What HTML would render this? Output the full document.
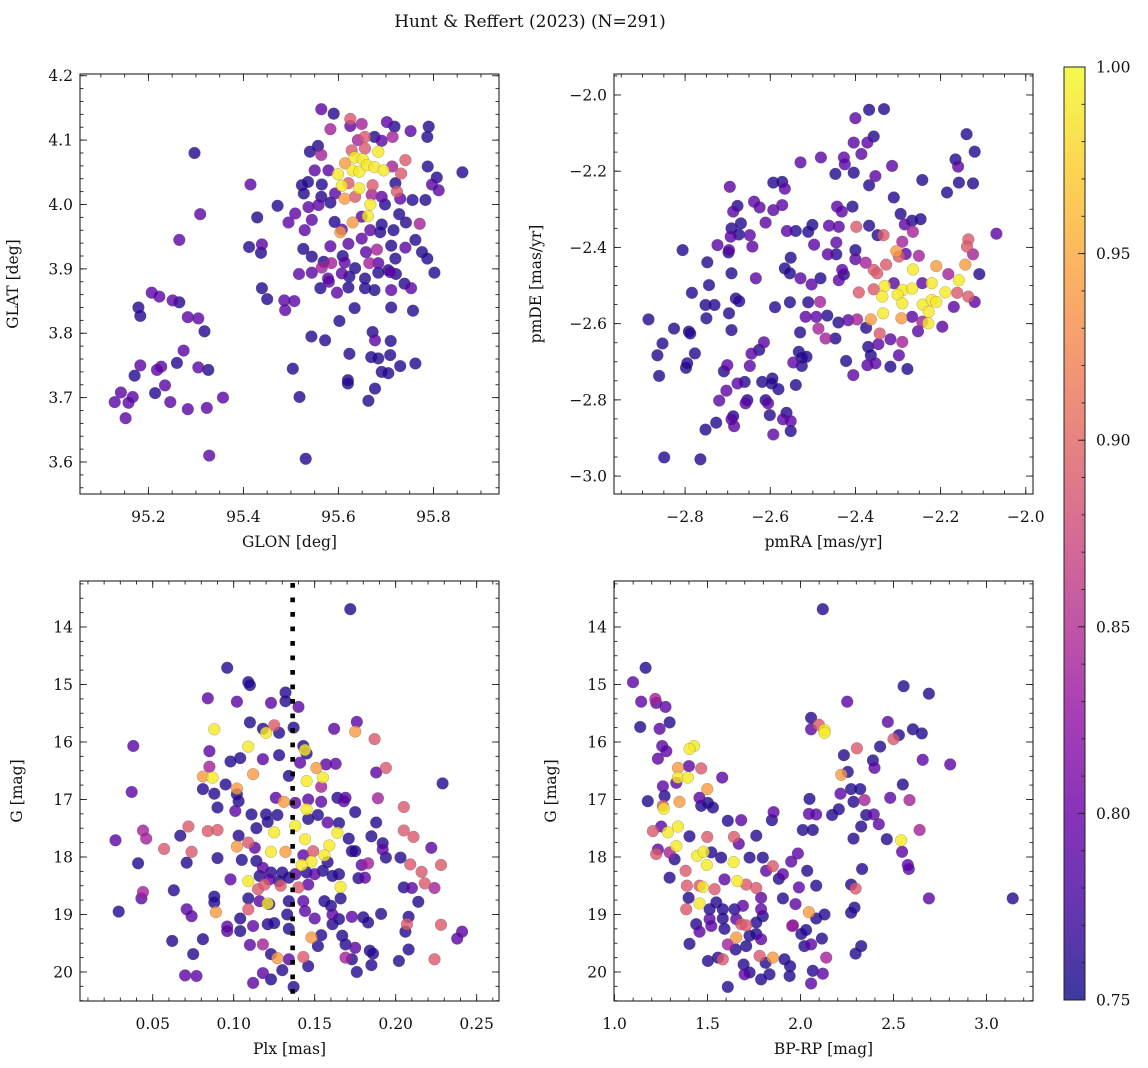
<!DOCTYPE html>
<html><head><meta charset="utf-8"><style>
html,body{margin:0;padding:0;background:#fff;}
svg{display:block;font-family:"DejaVu Serif","Liberation Serif",serif;}
</style></head><body>
<svg id="chart" width="1148" height="1068" viewBox="0 0 1148 1068" xmlns="http://www.w3.org/2000/svg">
<rect width="1148" height="1068" fill="#fff"/>
<text x="530" y="27" font-size="17" text-anchor="middle" fill="#111">Hunt &amp; Reffert (2023) (N=291)</text>
<g id="layer"></g>
</svg>
<script>
// ---- Panel 1: GLON / GLAT ----
const p1Glon=[95.297,95.309,95.265,95.207,95.223,95.251,95.265,95.179,95.183,95.283,95.305,95.318,95.274,95.260,95.183,95.227,95.218,95.305,95.326,95.171,95.142,95.167,95.214,95.235,95.129,95.158,95.246,95.283,95.323,95.357,95.152,95.328,
95.415,95.429,95.472,95.412,95.439,95.437,95.439,95.450,95.486,95.507,95.488,95.543,95.572,95.504,95.518,95.531,95.602,95.634,95.623,95.620,95.620,95.663,95.677,95.672,95.677,95.710,95.669,95.684,95.709,95.730,95.691,95.705,95.762,95.711,95.757,
95.564,95.590,95.625,95.649,95.583,95.625,95.702,95.718,95.752,95.790,95.787,95.714,95.691,95.676,95.656,95.641,95.557,95.540,95.564,95.628,95.656,95.684,95.634,95.651,95.614,95.630,95.644,95.660,95.676,95.695,95.599,95.713,95.732,95.741,95.788,95.861,95.807,95.797,95.811,95.550,
95.523,95.536,95.565,95.579,95.607,95.644,95.621,95.672,95.720,95.723,95.593,95.613,95.635,95.670,95.691,95.527,95.564,95.583,95.558,95.537,95.509,95.667,95.662,95.698,95.730,95.756,95.783,95.728,95.742,95.771,95.592,95.630,95.649,95.607,95.604,95.495,95.529,95.544,95.667,95.691,
95.688,95.716,95.649,95.621,95.583,95.526,95.544,95.609,95.658,95.681,95.711,95.741,95.762,95.776,95.720,95.787,95.802,95.569,95.585,95.613,95.635,95.665,95.684,95.705,95.721,95.517,95.544,95.565,95.578,95.607,95.623,95.656,95.684,95.709,95.739,95.562,95.580,95.597,95.621,95.656,95.676,95.711,95.753];
const p1Glat=[4.080,3.985,3.945,3.863,3.857,3.851,3.848,3.840,3.827,3.825,3.823,3.803,3.773,3.754,3.750,3.748,3.743,3.747,3.743,3.734,3.708,3.701,3.707,3.719,3.693,3.692,3.693,3.682,3.684,3.700,3.668,3.610,
4.031,3.980,3.998,3.934,3.938,3.925,3.870,3.853,3.851,3.850,3.836,3.795,3.789,3.745,3.701,3.605,3.819,3.839,3.768,3.727,3.722,3.695,3.714,3.802,3.789,3.788,3.763,3.761,3.766,3.749,3.740,3.738,3.753,3.840,3.835,
4.148,4.141,4.133,4.125,4.117,4.122,4.128,4.121,4.114,4.121,4.105,4.105,4.099,4.105,4.105,4.100,4.091,4.082,4.077,4.084,4.087,4.082,4.073,4.070,4.064,4.053,4.051,4.061,4.058,4.053,4.047,4.059,4.048,4.069,4.059,4.050,4.042,4.031,4.022,4.053,
4.030,4.035,4.031,4.053,4.029,4.025,4.033,4.030,4.033,4.020,4.017,4.009,4.012,4.015,4.012,4.017,4.012,4.003,3.999,3.996,3.986,4.000,3.982,4.000,4.009,4.007,4.007,3.985,3.972,3.970,3.973,3.972,3.981,3.961,3.957,3.972,3.960,3.976,3.960,3.969,
3.957,3.960,3.947,3.939,3.935,3.931,3.919,3.920,3.926,3.930,3.936,3.933,3.945,3.926,3.916,3.916,3.894,3.911,3.909,3.910,3.901,3.909,3.909,3.898,3.892,3.892,3.894,3.902,3.885,3.893,3.888,3.885,3.894,3.895,3.877,3.870,3.880,3.863,3.871,3.870,3.867,3.867,3.870];
const p1Prob=[0.76,0.79,0.79,0.79,0.79,0.79,0.76,0.76,0.76,0.79,0.79,0.76,0.79,0.76,0.79,0.79,0.79,0.79,0.76,0.76,0.79,0.79,0.76,0.79,0.79,0.79,0.79,0.79,0.79,0.79,0.79,0.79,
0.79,0.76,0.76,0.76,0.79,0.76,0.76,0.76,0.79,0.79,0.79,0.76,0.76,0.76,0.76,0.76,0.76,0.76,0.76,0.76,0.76,0.76,0.76,0.76,0.79,0.76,0.76,0.76,0.76,0.76,0.76,0.76,0.76,0.76,0.76,
0.79,0.76,0.89,0.84,0.84,0.79,0.79,0.76,0.79,0.76,0.76,0.84,0.79,0.76,0.89,0.84,0.76,0.76,0.84,0.89,0.89,0.99,0.99,0.99,0.94,0.99,0.99,0.99,0.99,0.99,0.99,0.84,0.89,0.89,0.76,0.76,0.76,0.79,0.79,0.79,
0.76,0.76,0.76,0.79,0.99,0.99,0.89,0.89,0.76,0.89,0.79,0.94,0.89,0.84,0.79,0.76,0.76,0.76,0.79,0.79,0.79,0.99,0.99,0.76,0.79,0.76,0.76,0.76,0.76,0.84,0.76,0.94,0.79,0.79,0.94,0.79,0.79,0.79,0.79,0.76,
0.76,0.76,0.79,0.79,0.79,0.76,0.76,0.76,0.79,0.84,0.76,0.79,0.76,0.76,0.76,0.76,0.76,0.76,0.84,0.79,0.76,0.84,0.79,0.76,0.76,0.79,0.79,0.84,0.79,0.79,0.76,0.76,0.76,0.79,0.76,0.76,0.79,0.79,0.76,0.76,0.76,0.79,0.79];

// ---- Panel 2: pmRA / pmDE ----
const p2PmRA=[-2.368,-2.333,-2.400,-2.357,-2.372,-2.404,-2.386,-2.139,-2.120,-2.165,-2.159,-2.529,-2.481,-2.427,-2.425,-2.447,-2.404,-2.314,-2.353,-2.368,-2.243,-2.157,-2.124,-2.185,-2.310,-2.695,-2.593,-2.572,-2.566,-2.677,
-2.687,-2.638,-2.625,-2.593,-2.572,-2.443,-2.407,-2.432,-2.294,-2.267,-2.247,-2.284,-2.265,-2.691,-2.669,-2.611,-2.561,-2.540,-2.501,-2.511,-2.462,-2.439,-2.398,-2.368,-2.348,-2.334,-2.693,-2.674,-2.648,-2.642,
-2.724,-2.697,-2.698,-2.806,-2.497,-2.445,-2.400,-2.290,-2.135,-2.069,-2.552,-2.465,-2.445,-2.400,-2.376,-2.357,-2.304,-2.298,-2.282,-2.251,-2.138,-2.124,-2.748,-2.691,-2.634,-2.566,-2.554,-2.529,-2.503,-2.482,
-2.431,-2.427,-2.439,-2.349,-2.328,-2.265,-2.210,-2.142,-2.182,-2.109,-2.157,-2.744,-2.784,-2.752,-2.731,-2.681,-2.673,-2.697,-2.589,-2.554,-2.511,-2.483,-2.392,-2.357,-2.331,-2.310,-2.289,-2.267,-2.243,-2.221,
-2.189,-2.161,-2.135,-2.120,-2.337,-2.301,-2.290,-2.242,-2.221,-2.210,-2.169,-2.750,-2.886,-2.826,-2.791,-2.788,-2.691,-2.517,-2.492,-2.466,-2.440,-2.417,-2.396,-2.375,-2.364,-2.335,-2.292,-2.267,-2.228,-2.243,
-2.229,-2.196,-2.253,-2.487,-2.530,-2.470,-2.447,-2.343,-2.853,-2.865,-2.777,-2.798,-2.795,-2.861,-2.701,-2.709,-2.615,-2.626,-2.644,-2.648,-2.533,-2.526,-2.515,-2.546,-2.526,-2.422,-2.318,-2.346,-2.290,-2.370,
-2.364,-2.298,-2.372,-2.353,-2.318,-2.278,-2.405,-2.677,-2.660,-2.703,-2.720,-2.654,-2.658,-2.619,-2.595,-2.597,-2.581,-2.540,-2.611,-2.605,-2.601,-2.562,-2.570,-2.552,-2.687,-2.691,-2.685,-2.727,-2.752,-2.552,
-2.593,-2.849,-2.764];
const p2PmDE=[-2.039,-2.037,-2.061,-2.109,-2.125,-2.125,-2.155,-2.103,-2.149,-2.169,-2.188,-2.177,-2.164,-2.164,-2.182,-2.207,-2.204,-2.186,-2.213,-2.237,-2.223,-2.230,-2.232,-2.256,-2.269,-2.241,-2.230,-2.228,-2.246,-2.291,
-2.306,-2.280,-2.295,-2.302,-2.289,-2.293,-2.293,-2.306,-2.312,-2.330,-2.326,-2.340,-2.359,-2.350,-2.337,-2.335,-2.357,-2.357,-2.341,-2.359,-2.343,-2.346,-2.346,-2.343,-2.368,-2.368,-2.372,-2.366,-2.368,-2.398,
-2.394,-2.407,-2.413,-2.407,-2.393,-2.387,-2.407,-2.385,-2.379,-2.364,-2.427,-2.418,-2.418,-2.431,-2.440,-2.459,-2.410,-2.424,-2.417,-2.422,-2.398,-2.418,-2.439,-2.468,-2.481,-2.455,-2.468,-2.481,-2.497,-2.481,
-2.459,-2.471,-2.486,-2.468,-2.445,-2.458,-2.449,-2.445,-2.470,-2.470,-2.486,-2.499,-2.519,-2.551,-2.551,-2.534,-2.541,-2.573,-2.557,-2.544,-2.544,-2.543,-2.518,-2.510,-2.501,-2.494,-2.512,-2.508,-2.494,-2.494,
-2.518,-2.519,-2.529,-2.543,-2.529,-2.524,-2.547,-2.550,-2.538,-2.543,-2.556,-2.586,-2.589,-2.613,-2.621,-2.626,-2.617,-2.582,-2.582,-2.579,-2.597,-2.591,-2.589,-2.611,-2.589,-2.573,-2.586,-2.582,-2.569,-2.595,
-2.599,-2.608,-2.620,-2.613,-2.623,-2.639,-2.639,-2.626,-2.652,-2.683,-2.678,-2.716,-2.704,-2.737,-2.709,-2.725,-2.649,-2.669,-2.679,-2.711,-2.674,-2.689,-2.687,-2.702,-2.711,-2.698,-2.641,-2.654,-2.648,-2.661,
-2.683,-2.683,-2.709,-2.704,-2.713,-2.719,-2.735,-2.757,-2.753,-2.776,-2.802,-2.801,-2.809,-2.753,-2.744,-2.757,-2.772,-2.761,-2.801,-2.809,-2.840,-2.834,-2.851,-2.856,-2.843,-2.851,-2.869,-2.860,-2.878,-2.882,
-2.891,-2.951,-2.956];
const p2Prob=[0.76,0.76,0.79,0.76,0.79,0.79,0.79,0.76,0.76,0.76,0.79,0.79,0.79,0.79,0.79,0.76,0.76,0.79,0.79,0.76,0.76,0.76,0.76,0.76,0.76,0.79,0.76,0.76,0.79,0.76,
0.79,0.79,0.79,0.79,0.79,0.79,0.76,0.79,0.76,0.76,0.76,0.79,0.84,0.76,0.76,0.79,0.79,0.76,0.76,0.76,0.79,0.79,0.89,0.76,0.76,0.89,0.79,0.76,0.79,0.79,
0.79,0.79,0.76,0.76,0.79,0.79,0.76,0.84,0.89,0.79,0.76,0.79,0.76,0.79,0.84,0.89,0.94,0.89,0.79,0.84,0.89,0.84,0.76,0.76,0.79,0.76,0.76,0.79,0.79,0.76,
0.79,0.76,0.79,0.89,0.89,0.99,0.94,0.94,0.84,0.76,0.99,0.76,0.76,0.76,0.76,0.76,0.76,0.76,0.76,0.76,0.76,0.84,0.89,0.89,0.99,0.79,0.99,0.99,0.79,0.99,
0.99,0.89,0.89,0.79,0.99,0.99,0.99,0.99,0.99,0.99,0.79,0.76,0.76,0.76,0.76,0.76,0.76,0.79,0.79,0.76,0.76,0.79,0.84,0.76,0.94,0.99,0.94,0.79,0.99,0.84,
0.99,0.79,0.79,0.84,0.76,0.84,0.76,0.89,0.76,0.76,0.76,0.76,0.76,0.76,0.79,0.76,0.79,0.76,0.79,0.79,0.76,0.76,0.76,0.79,0.76,0.76,0.79,0.79,0.84,0.76,
0.76,0.79,0.79,0.79,0.76,0.76,0.79,0.79,0.76,0.79,0.79,0.76,0.79,0.76,0.76,0.76,0.76,0.76,0.76,0.79,0.76,0.76,0.79,0.79,0.76,0.79,0.79,0.76,0.76,0.76,
0.79,0.76,0.76];

// ---- Panel 3: Plx / G ----
const p3Plx=[0.172,0.096,0.109,0.110,0.084,0.102,0.123,0.132,0.132,0.140,0.110,0.118,0.125,0.120,0.128,0.137,0.088,0.162,0.176,0.175,0.187,0.038,0.085,0.109,0.143,0.144,0.145,0.128,0.118,0.104,
0.098,0.085,0.081,0.087,0.095,0.102,0.112,0.134,0.141,0.151,0.157,0.163,0.155,0.145,0.154,0.188,0.194,0.229,0.037,0.081,0.088,0.090,0.102,0.103,0.101,0.111,0.120,0.127,0.126,0.131,
0.138,0.146,0.145,0.154,0.164,0.168,0.169,0.175,0.189,0.205,0.152,0.146,0.158,0.165,0.188,0.114,0.121,0.138,0.125,0.144,0.164,0.171,0.185,0.192,0.192,0.205,0.211,0.222,0.044,0.046,
0.027,0.057,0.067,0.072,0.074,0.084,0.090,0.103,0.102,0.109,0.113,0.123,0.132,0.143,0.149,0.159,0.156,0.148,0.142,0.158,0.165,0.173,0.175,0.183,0.179,0.177,0.181,0.194,0.203,0.209,
0.216,0.228,0.218,0.224,0.205,0.210,0.214,0.041,0.071,0.090,0.105,0.114,0.118,0.123,0.130,0.116,0.122,0.128,0.134,0.138,0.145,0.150,0.155,0.161,0.109,0.098,0.115,0.119,0.129,0.140,
0.146,0.166,0.063,0.044,0.043,0.088,0.088,0.109,0.116,0.121,0.122,0.134,0.143,0.156,0.160,0.166,0.029,0.071,0.074,0.089,0.109,0.104,0.104,0.096,0.096,0.112,0.121,0.125,0.133,0.134,
0.144,0.150,0.154,0.161,0.161,0.165,0.173,0.180,0.183,0.191,0.208,0.207,0.228,0.206,0.241,0.238,0.062,0.081,0.075,0.070,0.077,0.110,0.118,0.123,0.127,0.134,0.143,0.146,0.148,0.152,
0.167,0.169,0.175,0.184,0.186,0.169,0.173,0.185,0.176,0.202,0.208,0.224,0.118,0.123,0.130,0.112,0.137];
const p3G=[13.69,14.71,14.96,15.01,15.24,15.30,15.32,15.14,15.29,15.39,15.66,15.77,15.71,15.84,15.84,15.75,15.78,15.77,15.65,15.82,15.95,16.07,16.16,16.08,16.07,16.14,16.20,16.23,16.30,16.28,
16.34,16.43,16.60,16.62,16.74,16.81,16.56,16.59,16.36,16.45,16.39,16.38,16.62,16.68,16.78,16.53,16.45,16.72,16.87,16.82,16.90,17.14,16.91,17.03,17.20,17.26,17.26,17.27,16.97,17.04,
17.06,17.00,17.17,17.04,16.97,17.03,16.97,17.22,16.98,17.13,17.27,17.34,17.40,17.41,17.40,17.50,17.39,17.46,17.57,17.69,17.58,17.68,17.64,17.76,17.87,17.54,17.65,17.84,17.54,17.68,
17.71,17.86,17.63,17.47,17.91,17.55,17.53,17.63,17.82,17.75,17.84,17.91,17.91,17.97,17.90,17.80,17.97,18.08,18.14,18.09,18.30,17.90,17.90,18.11,18.14,18.37,18.36,18.01,18.01,18.13,
18.26,18.14,18.46,18.54,18.53,18.54,18.78,18.11,18.10,18.02,18.05,18.07,18.19,18.27,18.27,18.33,18.39,18.42,18.36,18.30,18.27,18.30,18.24,18.33,18.42,18.39,18.56,18.48,18.50,18.53,
18.48,18.52,18.58,18.61,18.72,18.69,18.79,18.72,18.77,18.81,18.82,18.77,18.77,18.77,18.85,18.72,18.95,18.91,19.03,18.96,18.91,19.07,19.29,19.21,19.29,19.20,19.17,19.15,19.00,19.25,
18.94,19.07,19.36,19.00,19.17,19.08,19.04,19.05,19.14,18.99,19.04,19.17,19.18,19.30,19.30,19.42,19.46,19.43,19.69,20.06,20.07,19.53,19.52,19.69,19.76,19.78,19.74,19.90,19.40,19.55,
19.37,19.52,19.58,19.63,19.68,19.75,19.78,19.88,20.00,19.81,19.61,19.78,20.02,20.13,19.97,20.19,20.26];
const p3Prob=[0.76,0.76,0.76,0.76,0.79,0.79,0.79,0.76,0.76,0.79,0.76,0.76,0.89,0.99,0.76,0.76,0.99,0.79,0.79,0.94,0.89,0.79,0.79,0.99,0.76,0.99,0.76,0.76,0.79,0.76,
0.76,0.84,0.94,0.99,0.76,0.94,0.94,0.76,0.79,0.94,0.79,0.79,0.99,0.99,0.84,0.79,0.89,0.76,0.79,0.76,0.76,0.76,0.76,0.76,0.79,0.76,0.76,0.76,0.79,0.94,
0.79,0.79,0.99,0.79,0.76,0.79,0.79,0.76,0.84,0.89,0.76,0.76,0.79,0.76,0.76,0.76,0.76,0.99,0.99,0.99,0.99,0.76,0.76,0.76,0.79,0.89,0.89,0.79,0.84,0.84,
0.79,0.89,0.76,0.89,0.89,0.89,0.89,0.76,0.94,0.89,0.79,0.99,0.94,0.79,0.89,0.99,0.99,0.99,0.99,0.76,0.76,0.76,0.76,0.84,0.79,0.76,0.79,0.76,0.76,0.89,
0.89,0.89,0.89,0.84,0.76,0.79,0.76,0.76,0.76,0.76,0.76,0.76,0.79,0.76,0.76,0.76,0.79,0.76,0.76,0.79,0.76,0.79,0.76,0.76,0.99,0.79,0.89,0.89,0.89,0.89,
0.79,0.99,0.76,0.84,0.79,0.76,0.76,0.76,0.79,0.99,0.76,0.76,0.79,0.76,0.76,0.76,0.76,0.79,0.79,0.94,0.89,0.76,0.76,0.79,0.79,0.79,0.76,0.76,0.76,0.76,
0.79,0.79,0.76,0.79,0.76,0.76,0.79,0.76,0.76,0.76,0.76,0.89,0.89,0.76,0.79,0.79,0.76,0.76,0.76,0.79,0.79,0.79,0.84,0.76,0.94,0.79,0.89,0.76,0.94,0.76,
0.76,0.76,0.79,0.76,0.76,0.84,0.76,0.76,0.76,0.76,0.76,0.89,0.79,0.76,0.76,0.79,0.76];
const p3PlxRef=[0.1364];

// ---- Panel 4: BP-RP / G ----
const p4BpRp=[2.120,1.167,1.099,1.143,1.219,1.224,1.274,1.138,1.242,1.296,1.256,1.278,1.233,1.427,1.403,1.400,1.466,1.341,1.341,1.394,1.332,1.260,1.498,1.579,1.179,1.269,1.349,1.457,1.502,1.529,
1.466,1.265,1.260,1.341,1.287,1.206,1.251,1.403,1.498,1.233,1.224,1.332,1.296,1.444,1.479,1.496,1.323,1.296,1.382,1.389,1.457,1.475,1.538,1.398,1.457,1.385,1.520,1.573,1.609,1.681,
1.642,1.668,1.762,1.640,1.726,1.797,1.855,1.846,1.986,1.950,1.851,1.815,1.905,1.883,1.591,1.660,1.708,1.762,1.788,1.905,1.973,2.036,1.991,2.084,1.511,1.547,1.582,1.645,1.690,1.788,
1.797,1.511,1.582,1.654,1.681,1.708,1.762,1.439,1.457,1.520,1.591,1.654,1.609,1.726,1.762,1.788,1.708,1.651,1.403,1.502,1.556,1.582,1.694,1.699,1.726,1.780,1.812,1.851,1.833,1.788,
1.914,1.944,1.941,1.609,1.959,2.004,2.030,2.021,2.057,2.115,2.045,2.084,2.129,2.138,2.066,2.120,2.057,1.955,2.048,2.045,2.084,2.012,2.066,2.057,2.057,2.098,2.129,2.129,2.251,2.233,
2.303,2.254,2.219,2.389,2.398,2.215,2.272,2.321,2.285,2.170,2.206,2.344,2.353,2.394,2.421,2.326,2.285,2.464,2.550,2.482,2.586,2.640,2.541,2.546,2.577,2.582,2.331,2.272,2.296,2.290,
2.272,2.326,2.296,2.428,2.469,2.500,2.529,2.604,2.652,2.657,2.554,2.690,2.805,2.690,3.141];
const p4G=[13.69,14.71,14.96,15.30,15.25,15.32,15.39,15.74,15.77,15.66,16.07,16.16,16.29,16.07,16.12,16.42,16.46,16.45,16.62,16.62,16.71,16.77,16.82,16.62,17.03,16.94,17.04,16.97,17.06,17.14,
17.11,17.16,17.11,17.47,17.57,17.55,17.47,17.64,17.65,17.87,17.95,17.81,17.92,17.98,17.91,18.14,18.04,18.36,18.24,18.50,18.50,18.52,18.56,18.71,18.81,18.91,17.92,18.01,17.37,17.36,
17.65,17.77,17.63,18.09,18.01,18.01,17.22,17.36,17.94,18.08,18.16,18.24,18.30,18.38,18.39,18.42,18.48,18.54,18.71,18.72,18.82,18.24,18.53,18.50,18.91,18.79,18.91,18.91,18.85,18.91,
19.03,19.08,19.07,19.08,19.17,19.19,19.14,19.17,19.30,19.20,19.25,19.40,19.52,19.37,19.34,19.43,19.55,19.61,19.51,19.81,19.75,19.78,19.87,20.04,20.01,19.72,19.84,19.75,20.04,20.13,
19.78,19.90,20.07,20.26,19.19,19.34,19.27,19.55,19.52,19.42,18.96,19.07,19.00,19.75,19.98,20.03,20.20,19.20,16.99,17.25,17.26,17.53,17.53,15.58,15.78,15.70,15.79,15.84,15.30,16.23,
16.11,16.52,16.57,16.32,16.45,16.90,16.82,16.82,17.04,17.27,17.17,17.01,17.27,17.26,17.43,17.47,17.68,17.69,16.74,16.97,17.01,17.53,17.71,17.91,18.14,18.21,18.21,18.48,18.55,18.88,
18.97,19.55,19.68,16.08,15.65,15.95,15.88,15.78,15.85,16.31,15.03,15.16,16.39,18.72,18.72];
const p4Prob=[0.76,0.76,0.79,0.79,0.84,0.79,0.79,0.76,0.79,0.76,0.79,0.79,0.79,0.99,0.99,0.79,0.89,0.94,0.99,0.99,0.79,0.79,0.94,0.79,0.76,0.76,0.94,0.79,0.76,0.76,
0.76,0.99,0.89,0.99,0.99,0.89,0.79,0.76,0.89,0.79,0.89,0.99,0.84,0.99,0.99,0.99,0.76,0.76,0.89,0.89,0.89,0.99,0.89,0.76,0.99,0.89,0.76,0.76,0.76,0.79,
0.89,0.79,0.76,0.99,0.76,0.76,0.79,0.76,0.79,0.79,0.89,0.79,0.79,0.76,0.79,0.99,0.89,0.89,0.79,0.76,0.79,0.76,0.79,0.76,0.76,0.76,0.76,0.76,0.79,0.79,
0.76,0.79,0.76,0.79,0.89,0.89,0.76,0.76,0.79,0.79,0.76,0.94,0.84,0.76,0.76,0.79,0.76,0.76,0.76,0.76,0.76,0.89,0.76,0.79,0.76,0.89,0.76,0.94,0.76,0.76,
0.76,0.76,0.76,0.76,0.79,0.76,0.76,0.76,0.79,0.76,0.94,0.76,0.76,0.84,0.76,0.79,0.79,0.84,0.76,0.79,0.79,0.76,0.76,0.76,0.79,0.89,0.99,0.99,0.79,0.76,
0.89,0.76,0.94,0.76,0.79,0.79,0.76,0.76,0.76,0.76,0.76,0.84,0.76,0.79,0.79,0.76,0.76,0.76,0.76,0.79,0.84,0.84,0.99,0.79,0.79,0.79,0.76,0.76,0.89,0.76,
0.76,0.76,0.76,0.76,0.79,0.89,0.76,0.76,0.76,0.79,0.76,0.76,0.79,0.79,0.76];

// ---- Tick labels ----
const p1XTicks=[95.2,95.4,95.6,95.8];
const p1YTicks=[3.6,3.7,3.8,3.9,4.0,4.1,4.2];
const p2XTicks=[-2.8,-2.6,-2.4,-2.2,-2.0];
const p2YTicks=[-3.0,-2.8,-2.6,-2.4,-2.2,-2.0];
const p3XTicks=[0.05,0.10,0.15,0.20,0.25];
const gTicks=[14,15,16,17,18,19,20];
const p4XTicks=[1.0,1.5,2.0,2.5,3.0];
const cbarTicks=[0.75,0.80,0.85,0.90,0.95,1.00];
const cbarRange=[0.75,1.0];

const NS="http://www.w3.org/2000/svg";
const layer=document.getElementById('layer');
function mk(tag,attrs,parent){const e=document.createElementNS(NS,tag);for(const k in attrs)e.setAttribute(k,attrs[k]);(parent||layer).appendChild(e);return e;}

const plasma=[[13,8,135],[65,4,157],[106,0,168],[143,13,164],[177,42,144],[204,71,120],[225,100,98],[242,132,75],[252,166,54],[252,206,37],[240,249,33]];
function cmap(t){t=Math.max(0,Math.min(1,t));const f=t*10,i=Math.min(9,Math.floor(f)),r=f-i;const a=plasma[i],b=plasma[i+1];
return 'rgb('+[0,1,2].map(k=>Math.round(a[k]+(b[k]-a[k])*r)).join(',')+')';}
function norm(p){return (p-cbarRange[0])/(cbarRange[1]-cbarRange[0]);}
function fmtMinus(s){return s.replace('-','\u2212');}

function makePanel(cfg){
  const P={...cfg};
  P.sx=v=>P.x0+(v-P.xlim[0])/(P.xlim[1]-P.xlim[0])*P.w;
  P.sy=v=>P.inv? P.y0+(v-P.ylim[0])/(P.ylim[1]-P.ylim[0])*P.h : P.y0+P.h-(v-P.ylim[0])/(P.ylim[1]-P.ylim[0])*P.h;
  return P;
}
function drawAxes(P,xt,xdec,xminStep,yt,ydec,yminStep,xlabel,ylabel,ylabX,name){
  const g=mk('g',{});
  
  
  const tk={stroke:'#222','stroke-width':0.9};
  // minor ticks
  const xs=Math.ceil(P.xlim[0]/xminStep-1e-6);
  for(let k=xs;k*xminStep<=P.xlim[1];k++){const v=k*xminStep,x=P.sx(v);
    mk('line',{x1:x,x2:x,y1:P.y0+P.h,y2:P.y0+P.h-3.5,...tk},g);mk('line',{x1:x,x2:x,y1:P.y0,y2:P.y0+3.5,...tk},g);}
  const lo=Math.min(P.ylim[0],P.ylim[1]),hi=Math.max(P.ylim[0],P.ylim[1]);
  const ys=Math.ceil(lo/yminStep-1e-6);
  for(let k=ys;k*yminStep<=hi;k++){const v=k*yminStep,y=P.sy(v);
    mk('line',{x1:P.x0,x2:P.x0+3.5,y1:y,y2:y,...tk},g);mk('line',{x1:P.x0+P.w,x2:P.x0+P.w-3.5,y1:y,y2:y,...tk},g);}
  xt.forEach(v=>{const x=P.sx(v);
    mk('line',{x1:x,x2:x,y1:P.y0+P.h,y2:P.y0+P.h-7,...tk},g);mk('line',{x1:x,x2:x,y1:P.y0,y2:P.y0+7,...tk},g);
    const t=mk('text',{x:x,y:P.y0+P.h+28,'font-size':15.5,'text-anchor':'middle',fill:'#111'},g);
    
    
    t.textContent=fmtMinus(v.toFixed(xdec));});
  yt.forEach(v=>{const y=P.sy(v);
    mk('line',{x1:P.x0,x2:P.x0+7,y1:y,y2:y,...tk},g);mk('line',{x1:P.x0+P.w,x2:P.x0+P.w-7,y1:y,y2:y,...tk},g);
    const t=mk('text',{x:P.x0-7,y:y+5.5,'font-size':15.5,'text-anchor':'end',fill:'#111'},g);
    
    
    t.textContent=fmtMinus(v.toFixed(ydec));});
  const fr=mk('rect',{x:P.x0,y:P.y0,width:P.w,height:P.h,fill:'none',stroke:'#222','stroke-width':1.1},g);
  
  
  const xl=mk('text',{x:P.x0+P.w/2,y:P.y0+P.h+53,'font-size':15.5,'text-anchor':'middle',fill:'#111'},g);
  
  
  xl.textContent=xlabel;
  const yl=mk('text',{x:ylabX,y:P.y0+P.h/2,'font-size':15.5,'text-anchor':'middle',fill:'#111',transform:'rotate(-90 '+ylabX+' '+(P.y0+P.h/2)+')'},g);
  
  
  yl.textContent=ylabel;
}
function drawPoints(P,xs,ys,pr,name){
  const g=mk('g',{});
  
  
  const idx=xs.map((_,i)=>i).sort((a,b)=>pr[a]-pr[b]);
  idx.forEach(i=>{
    const c=mk('circle',{cx:P.sx(xs[i]).toFixed(1),cy:P.sy(ys[i]).toFixed(1),r:5.9,fill:cmap(norm(pr[i])),'fill-opacity':0.8,stroke:'#555','stroke-opacity':0.45,'stroke-width':0.5},g);
    
    
  });
}

const P1=makePanel({x0:80,y0:74,w:419,h:420,xlim:[95.056,95.938],ylim:[3.5503,4.2027],inv:false});
const P2=makePanel({x0:614,y0:74,w:419,h:420,xlim:[-2.967,-1.983],ylim:[-3.047,-1.945],inv:false});
const P3=makePanel({x0:80,y0:581,w:419,h:420,xlim:[0.0051,0.2638],ylim:[13.2,20.505],inv:true});
const P4=makePanel({x0:614,y0:581,w:419,h:420,xlim:[0.997,3.250],ylim:[13.2,20.505],inv:true});

drawPoints(P1,p1Glon,p1Glat,p1Prob,'glon-glat');
drawAxes(P1,p1XTicks,1,0.05,p1YTicks,1,0.02,'GLON [deg]','GLAT [deg]',18,'glon-glat');
drawPoints(P2,p2PmRA,p2PmDE,p2Prob,'pm');
drawAxes(P2,p2XTicks,1,0.05,p2YTicks,1,0.05,'pmRA [mas/yr]','pmDE [mas/yr]',541,'pm');
drawPoints(P3,p3Plx,p3G,p3Prob,'plx-g');
p3PlxRef.forEach(v=>{const x=P3.sx(v);
  const l=mk('line',{x1:x,x2:x,y1:P3.y0+2,y2:P3.y0+P3.h,stroke:'#000','stroke-width':4.6,'stroke-dasharray':'4.7 9.8'});
  
  });
drawAxes(P3,p3XTicks,2,0.01,gTicks,0,0.25,'Plx [mas]','G [mag]',22,'plx-g');
drawPoints(P4,p4BpRp,p4G,p4Prob,'cmd');
drawAxes(P4,p4XTicks,1,0.1,gTicks,0,0.25,'BP-RP [mag]','G [mag]',556,'cmd');

// ---- Colorbar ----
(function(){
  const cx=1064,cw=21,ct=67,cb=1000;
  const defs=mk('defs',{});
  const lg=mk('linearGradient',{id:'cbg',x1:0,y1:1,x2:0,y2:0},defs);
  for(let i=0;i<=20;i++){mk('stop',{offset:(i/20),'stop-color':cmap(i/20)},lg);}
  const g=mk('g',{});
  
  
  mk('rect',{x:cx,y:ct,width:cw,height:cb-ct,fill:'url(#cbg)','fill-opacity':0.8},g);
  mk('rect',{x:cx,y:ct,width:cw,height:cb-ct,fill:'none',stroke:'#222','stroke-width':1},g);
  const sy=v=>cb-(v-cbarRange[0])/(cbarRange[1]-cbarRange[0])*(cb-ct);
  for(let k=75;k<=100;k++){const y=sy(k/100);mk('line',{x1:cx+cw,x2:cx+cw-3.5,y1:y,y2:y,stroke:'#222','stroke-width':0.9},g);}
  cbarTicks.forEach(v=>{const y=sy(v);
    mk('line',{x1:cx+cw,x2:cx+cw-7,y1:y,y2:y,stroke:'#222','stroke-width':0.9},g);
    const t=mk('text',{x:cx+cw+11,y:y+5.5,'font-size':15.5,fill:'#111'},g);
    
    
    t.textContent=v.toFixed(2);});
})();
</script>
</body></html>
